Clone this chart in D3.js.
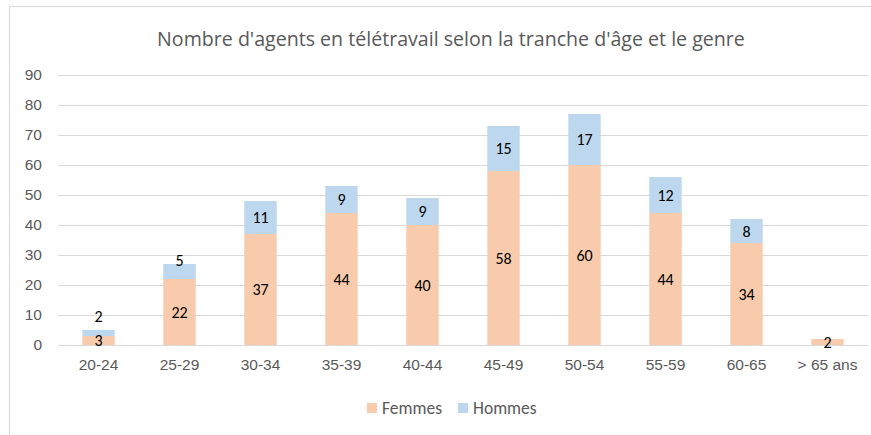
<!DOCTYPE html>
<html>
<head>
<meta charset="utf-8">
<script src="https://cdn.jsdelivr.net/npm/d3@7"></script>
<style>
  html, body { margin: 0; padding: 0; background: #fff; }
  svg { display: block; font-family: Calibri, Carlito, Lato, sans-serif; }
</style>
</head>
<body>
<svg id="chart" width="871" height="435"></svg>
<script>
// Age brackets and head counts by gender
const categories = ["20-24", "25-29", "30-34", "35-39", "40-44", "45-49", "50-54", "55-59", "60-65", "> 65 ans"];
const femmes = [3, 22, 37, 44, 40, 58, 60, 44, 34, 2];
const hommes = [2, 5, 11, 9, 9, 15, 17, 12, 8, null];
const yTicks = [0, 10, 20, 30, 40, 50, 60, 70, 80, 90];
const seriesNames = ["Femmes", "Hommes"];
const seriesColors = ["#F8CBAD", "#BDD7EE"];

const svg = d3.select("#chart");
const W = 871, H = 435;
const plot = { left: 58, right: 868, top: 75, bottom: 345 };

// outer chart frame
svg.append("rect")
  .attr("x", 9.5).attr("y", 6.5)
  .attr("width", W + 20).attr("height", H + 20)
  .attr("fill", "#fff").attr("stroke", "#d9d9d9").attr("stroke-width", 1);

svg.append("text")
  .attr("x", 451).attr("y", 46)
  .attr("text-anchor", "middle")
  .attr("font-family", "'Open Sans', Lato, sans-serif")
  .attr("font-size", 19.6)
  .attr("fill", "#595959")
  .text("Nombre d'agents en télétravail selon la tranche d'âge et le genre");

const x = d3.scaleBand()
  .domain(categories)
  .range([plot.left, plot.right])
  .paddingInner(0.6)
  .paddingOuter(0.3);

const y = d3.scaleLinear().domain([0, 90]).range([plot.bottom, plot.top]);

// horizontal gridlines + y labels
const yAxis = d3.axisLeft(y).tickValues(yTicks).tickSize(-(plot.right - plot.left)).tickPadding(16);
const gy = svg.append("g").attr("transform", `translate(${plot.left},0)`).call(yAxis);
gy.select(".domain").remove();
gy.selectAll(".tick line").attr("stroke", "#d9d9d9").attr("stroke-width", 1);
gy.selectAll(".tick text").attr("font-size", 15.5).attr("fill", "#595959").attr("font-family", null);

// category axis
const xAxis = d3.axisBottom(x).tickSize(0).tickPadding(14);
const gx = svg.append("g").attr("transform", `translate(0,${plot.bottom})`).call(xAxis);
gx.select(".domain").attr("stroke", "#d9d9d9");
gx.selectAll(".tick text").attr("font-size", 15.5).attr("fill", "#595959").attr("font-family", null);

// stacked bars
const rows = categories.map((c, i) => ({ cat: c, Femmes: femmes[i], Hommes: hommes[i] || 0, hRaw: hommes[i] }));
const stack = d3.stack().keys(seriesNames)(rows);

stack.forEach((layer, li) => {
  svg.append("g").selectAll("rect")
    .data(layer)
    .join("rect")
    .attr("x", d => x(d.data.cat))
    .attr("width", x.bandwidth())
    .attr("y", d => y(d[1]))
    .attr("height", d => y(d[0]) - y(d[1]))
    .attr("fill", seriesColors[li]);
});

// data labels
const fLabelY = rows.map(r => (y(0) + y(r.Femmes)) / 2);
const labels = svg.append("g").attr("font-size", 16).attr("fill", "#000").attr("text-anchor", "middle");
rows.forEach((r, i) => {
  const cx = x(r.cat) + x.bandwidth() / 2;
  labels.append("text").attr("x", cx).attr("y", fLabelY[i]).attr("dy", "0.35em").text(r.Femmes);
  if (r.hRaw != null) {
    const top = y(r.Femmes + r.Hommes);
    const segH = y(r.Femmes) - top;
    let ly = (y(r.Femmes) + top) / 2;
    if (segH < 20) ly = top - 4;            // thin segment: lift label
    ly = Math.min(ly, fLabelY[i] - 24);     // keep clear of the lower label
    labels.append("text").attr("x", cx).attr("y", ly).attr("dy", "0.35em").text(r.hRaw);
  }
});

// legend
const legend = svg.append("g").attr("font-size", 17.5).attr("fill", "#595959");
const legendItems = [{ x: 367 }, { x: 458 }];
seriesNames.forEach((name, i) => {
  const g = legend.append("g").attr("transform", `translate(${legendItems[i].x},403)`);
  g.append("rect").attr("width", 10).attr("height", 10).attr("fill", seriesColors[i]);
  g.append("text").attr("x", 15).attr("y", 5).attr("dy", "0.35em").text(name);
});
</script>
</body>
</html>
